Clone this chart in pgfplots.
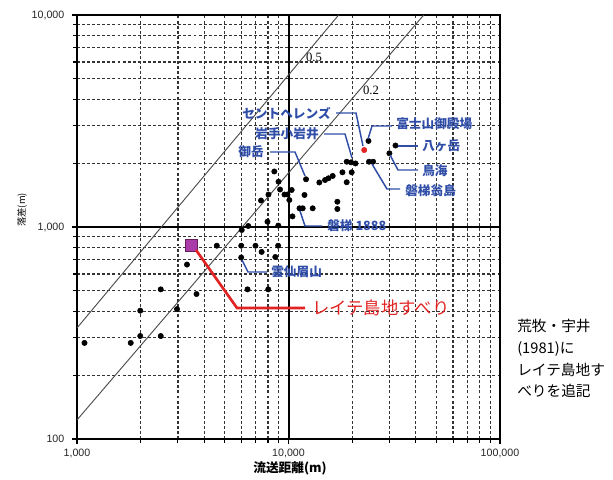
\documentclass[border=0pt]{standalone}
\usepackage{fontspec}
\setmainfont{Liberation Sans}
\newfontfamily\jp{Noto Sans CJK JP}
\newfontfamily\ser{Liberation Serif}
\usepackage{pgfplots}
\pgfplotsset{compat=1.18}
\definecolor{lblue}{RGB}{48,78,168}
\definecolor{lred}{RGB}{225,35,35}
\definecolor{sqfill}{RGB}{170,60,170}
\definecolor{sqdraw}{RGB}{100,30,90}
\begin{document}
\begin{tikzpicture}
\useasboundingbox (0,0) rectangle (459.75pt,-359.25pt);
\begin{axis}[
  at={(57.75pt,-329.25pt)}, anchor=south west,
  scale only axis, width=317.25pt, height=318pt,
  xmode=log, ymode=log,
  xmin=1000, xmax=100000, ymin=100, ymax=10000,
  xtick={1000,10000,100000}, xticklabels={{1,000},{10,000},{100,000}},
  ytick={100,1000,10000}, yticklabels={{100},{1,000},{10,000}},
  tick pos=left, tick align=outside,
  major tick length=4pt, minor tick length=3pt,
  every tick/.style={black, line width=0.8pt},
  grid=both,
  major grid style={black, line width=1.5pt},
  minor grid style={black!80, line width=0.9pt, dash pattern=on 2.2pt off 1.6pt},
  axis line style={black, line width=1.6pt},
  ticklabel style={font=\fontsize{8}{9}\selectfont, text=black!85},
  yticklabel style={xshift=-2pt},
  clip=true,
]
\addplot[black!70, line width=0.7pt] coordinates {(1000,334) (17260,10000)};
\addplot[black!70, line width=0.7pt] coordinates {(1000,123) (43600,10000)};
\addplot[only marks, mark=*, mark size=2pt, black] coordinates {
(1085,284) (1795,284) (1991,306) (2488,306) (1991,403) (2971,410)
(2488,508) (3673,483) (3311,665) (4581,816) (5975,816) (6982,816)
(8933,816) (7465,763) (5975,718) (8660,722) (6400,508) (8020,508)
(6454,1011) (6010,968) (7955,1059) (8950,1016)
(7413,1333) (8040,1423) (8570,1828) (8970,1636) (9120,1503) (9570,1423)
(9890,1423) (10090,1340) (10440,1122) (10350,1495) (11900,1416) (12100,1679)
(11270,1225) (11670,1225) (13010,1225) (13990,1622) (14890,1666) (15460,1698)
(16180,1741) (17020,1316) (17020,1216) (17990,1811) (19900,1811) (18840,1626)
(18840,2032) (19750,2018) (20740,1995) (24030,2032) (25120,2032) (23880,2547)
(29990,2226) (32050,2423)
};
\addplot[only marks, mark=*, mark size=2pt, lred] coordinates {(22800,2307)};
\addplot[only marks, mark=square*, mark size=4.5pt, mark options={fill=sqfill, draw=sqdraw, line width=0.8pt}] coordinates {(3496,818)};
\end{axis}
\begin{scope}[x=0.75pt, y=-0.75pt]
% ratio labels
\node[font=\ser\fontsize{9.5}{10}\selectfont, inner sep=0pt] at (314,57) {0.5};
\node[font=\ser\fontsize{9.5}{10}\selectfont, inner sep=0pt] at (371,90) {0.2};
% blue leaders
\begin{scope}[lblue, line width=1.1pt]
\draw (336,113) -- (356,113) -- (363,146);
\draw (324,134) -- (345,134) -- (352,158);
\draw (270,152) -- (295,152) -- (305,176);
\draw (300,211) -- (305,226) -- (322,226);
\draw (242,260) -- (248,272) -- (267,272);
\draw (368,139) -- (372,126) -- (392,126);
\draw (398,146) -- (418,146);
\draw (390,155) -- (398,170) -- (418,170);
\draw (372,164) -- (387,189) -- (400,189);
\end{scope}
\begin{scope}[every node/.style={text=lblue, font=\jp\bfseries\fontsize{9.5}{10}\selectfont, inner sep=0pt}]
\node[anchor=east] at (331,113) {セントヘレンズ};
\node[anchor=east] at (319,134) {岩手小岩井};
\node[anchor=east] at (264,152) {御岳};
\node[anchor=west] at (327,226) {磐梯 1888};
\node[anchor=west] at (271,272) {雲仙眉山};
\node[anchor=west] at (396,124) {富士山御殿場};
\node[anchor=west] at (422,146) {八ヶ岳};
\node[anchor=west] at (422,171) {鳥海};
\node[anchor=west] at (405,191) {磐梯翁島};
\end{scope}
\draw[lred, line width=2pt] (196,250) -- (237,308) -- (305,308);
\node[anchor=west, inner sep=0pt, text=lred, font=\jp\fontsize{13}{14}\selectfont] at (312,308) {レイテ島地すべり};
% right note
\node[anchor=north west, align=left, inner sep=0pt, font=\jp\fontsize{11}{16.3}\selectfont] at (517,319) {荒牧・宇井\\(1981)に\\レイテ島地す\\べりを追記};
% axis labels
\node[font=\jp\bfseries\fontsize{9.5}{10}\selectfont, inner sep=0pt] at (290,468) {流送距離(m)};
\node[rotate=90, font=\jp\fontsize{7}{8}\selectfont, inner sep=0pt] at (22,210) {落差(m)};
\end{scope}
\end{tikzpicture}
\end{document}
